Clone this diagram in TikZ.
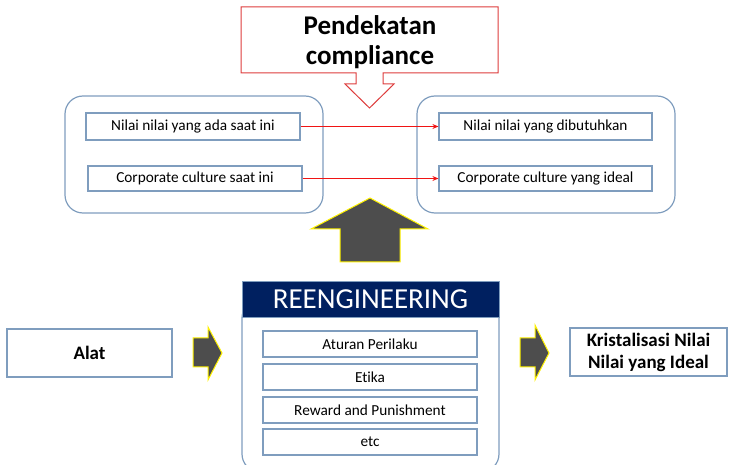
\documentclass[tikz,border=0pt]{standalone}
\usepackage{fontspec}
\setmainfont{Carlito}[RawFeature=-liga]
\usetikzlibrary{arrows.meta}
\definecolor{boxblue}{RGB}{127,157,190}
\definecolor{navy}{RGB}{0,32,96}
\definecolor{arrowgray}{RGB}{77,77,77}
\definecolor{calloutred}{RGB}{222,60,60}
\definecolor{linkred}{RGB}{240,20,20}
\tikzset{
  bigpanel/.style={draw=boxblue, line width=1.2pt, rounded corners=18pt, inner sep=0pt},
  itembox/.style={draw=boxblue, line width=1.2pt, fill=white, inner sep=0pt, font=\fontsize{15.3}{18}\selectfont},
  blockarrow/.style={fill=arrowgray, draw=yellow, line width=1pt, line join=miter},
  link/.style={draw=linkred, line width=0.9pt, -{Stealth[length=6pt,width=5pt]}},
}
\begin{document}
\begin{tikzpicture}[x=1pt,y=-1pt]
\useasboundingbox (0,0) rectangle (729,465);
\clip (0,0) rectangle (729,465);

% callout with down arrow
\draw[draw=calloutred, line width=1pt, fill=white]
  (241,7) -- (498,7) -- (498,73) -- (383,73) -- (383,84) -- (394,84) -- (369.5,108)
  -- (345,84) -- (356,84) -- (356,73) -- (241,73) -- cycle;
\node[align=center, font=\fontsize{27}{30}\selectfont\bfseries] (callout) at (370,42) {Pendekatan\\compliance};

% upper panels
\node[bigpanel, minimum width=258pt, minimum height=117pt] (leftpanel) at (194,154.5) {};
\node[bigpanel, minimum width=258pt, minimum height=117pt] (rightpanel) at (546,154.5) {};
\node[itembox, minimum width=214pt, minimum height=27pt] (l1) at (193,126.5) {Nilai nilai yang ada saat ini};
\node[itembox, minimum width=214pt, minimum height=25pt] (l2) at (195,178.5) {Corporate culture saat ini};
\node[itembox, minimum width=213pt, minimum height=27pt] (r1) at (545.5,126.5) {Nilai nilai yang dibutuhkan};
\node[itembox, minimum width=213pt, minimum height=25pt] (r2) at (545.5,178.5) {Corporate culture yang ideal};
\draw[link] (l1.east) -- (r1.west);
\draw[link] (l2.east) -- (r2.west);

% big up arrow
\draw[blockarrow] (370,198) -- (428,229) -- (400,229) -- (400,262) -- (340,262) -- (340,229) -- (311,229) -- cycle;

% reengineering block
\draw[draw=boxblue, line width=1.2pt, rounded corners=18pt] (242,300) rectangle (499,472);
\node[fill=navy, draw=boxblue, line width=0.8pt, minimum width=257pt, minimum height=36pt, inner sep=0pt,
      text=white, font=\fontsize{29}{32}\selectfont] (reeng) at (370.5,299) {REENGINEERING};
\node[itembox, minimum width=214pt, minimum height=26pt] (b1) at (370,344) {Aturan Perilaku};
\node[itembox, minimum width=214pt, minimum height=26pt] (b2) at (370,377) {Etika};
\node[itembox, minimum width=214pt, minimum height=26pt] (b3) at (370,410) {Reward and Punishment};
\node[itembox, minimum width=214pt, minimum height=26pt] (b4) at (370,442) {etc};

% side boxes
\node[itembox, minimum width=165pt, minimum height=48pt, font=\fontsize{19}{22}\selectfont\bfseries] (alat) at (89.5,353) {Alat};
\node[itembox, minimum width=157pt, minimum height=48pt, align=center, font=\fontsize{19}{22}\selectfont\bfseries] (krist) at (648.5,352) {Kristalisasi Nilai\\Nilai yang Ideal};

% small right arrows
\draw[blockarrow] (193,338) -- (208,338) -- (208,327) -- (222,353) -- (208,380) -- (208,367) -- (193,367) -- cycle;
\draw[blockarrow] (520,338) -- (535,338) -- (535,325) -- (549,353) -- (535,380) -- (535,367) -- (520,367) -- cycle;
\end{tikzpicture}
\end{document}
